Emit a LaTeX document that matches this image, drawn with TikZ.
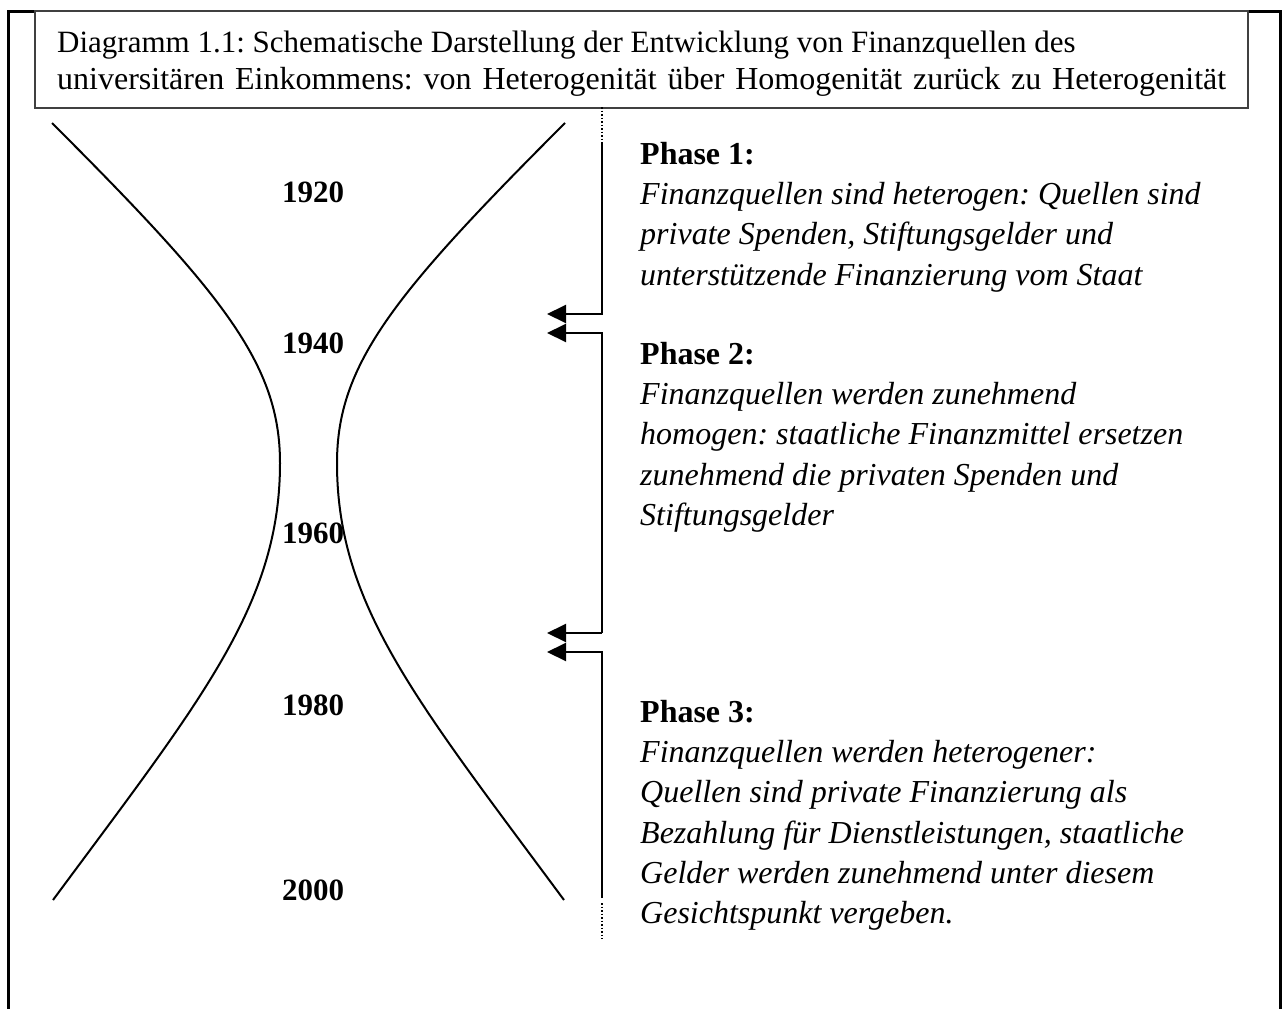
\documentclass[tikz,border=0pt]{standalone}
\usepackage{fontspec}
\setmainfont{Liberation Serif}
\usetikzlibrary{arrows.meta}
\frenchspacing
\begin{document}
\begin{tikzpicture}[x=1pt,y=-1pt,
  frame/.style={line width=3pt,black},
  titlebox/.style={draw=black!75,line width=2pt,fill=white,inner sep=0pt},
  txt/.style={inner sep=0pt,anchor=base west,font=\fontsize{31}{38}\selectfont},
  year/.style={inner sep=0pt,anchor=base,font=\fontsize{31}{40}\selectfont\bfseries},
  phase/.style={inner sep=0pt,anchor=north west,align=left,font=\fontsize{32}{40.2}\selectfont},
  curve/.style={line width=2pt},
  conn/.style={line width=2pt},
  tip/.style={-{Triangle[length=19pt,width=18pt]}},
  dots/.style={line width=1.5pt,dotted}]
\useasboundingbox (0,0) rectangle (1282,1009);

% open outer frame
\draw[frame] (8.5,1009) -- (8.5,11) -- (1280,11) -- (1280,1009);

% caption box
\node[titlebox,minimum width=1213pt,minimum height=97pt,anchor=north west] (title) at (34,10) {};
\node[txt] (cap1) at (57,52) {Diagramm 1.1: Schematische Darstellung der Entwicklung von Finanzquellen des};
\node[txt,font=\fontsize{32}{38}\selectfont] (cap2) at (57,89) {\makebox[1169pt][s]{universitären Einkommens: von Heterogenität über Homogenität zurück zu Heterogenität}};

% hourglass
\draw[curve] (52,123) .. controls (223,294) and (280,364) .. (280,463)
                      .. controls (280,605) and (201,700) .. (53,900);
\draw[curve] (565,123) .. controls (394,294) and (337,364) .. (337,463)
                       .. controls (337,605) and (416,700) .. (564,900);

% years
\node[year] (y1920) at (313,202) {1920};
\node[year] (y1940) at (313,353) {1940};
\node[year] (y1960) at (313,543) {1960};
\node[year] (y1980) at (313,715) {1980};
\node[year] (y2000) at (313,900) {2000};

% phase brackets
\coordinate (top) at (602,107);
\coordinate (s1) at (602,142);
\coordinate (b1) at (602,314);
\coordinate (a1) at (547,314);
\coordinate (s2) at (602,333);
\coordinate (a2) at (547,333);
\coordinate (b2) at (602,633);
\coordinate (a3) at (547,633);
\coordinate (s3) at (602,652);
\coordinate (a4) at (547,652);
\coordinate (e3) at (602,898);
\coordinate (d3) at (602,903);
\coordinate (bot) at (602,939);

\draw[dots] (top) -- (s1);
\draw[conn,tip] (s1) -- (b1) -- (a1);
\draw[conn,tip] (b2) -- (s2) -- (a2);
\draw[conn,tip] (b2) -- (a3);
\draw[conn,tip] (e3) -- (s3) -- (a4);
\draw[dots] (d3) -- (bot);

% phase descriptions
\node[phase] (p1) at (640,142) {\textbf{Phase 1:}\\
\itshape Finanzquellen sind heterogen: Quellen sind\\
\itshape private Spenden, Stiftungsgelder und\\
\itshape unterstützende Finanzierung vom Staat};
\node[phase] (p2) at (640,342) {\textbf{Phase 2:}\\
\itshape Finanzquellen werden zunehmend\\
\itshape homogen: staatliche Finanzmittel ersetzen\\
\itshape zunehmend die privaten Spenden und\\
\itshape Stiftungsgelder};
\node[phase] (p3) at (640,700) {\textbf{Phase 3:}\\
\itshape Finanzquellen werden heterogener:\\
\itshape Quellen sind private Finanzierung als\\
\itshape Bezahlung für Dienstleistungen, staatliche\\
\itshape Gelder werden zunehmend unter diesem\\
\itshape Gesichtspunkt vergeben.};
\end{tikzpicture}
\end{document}
